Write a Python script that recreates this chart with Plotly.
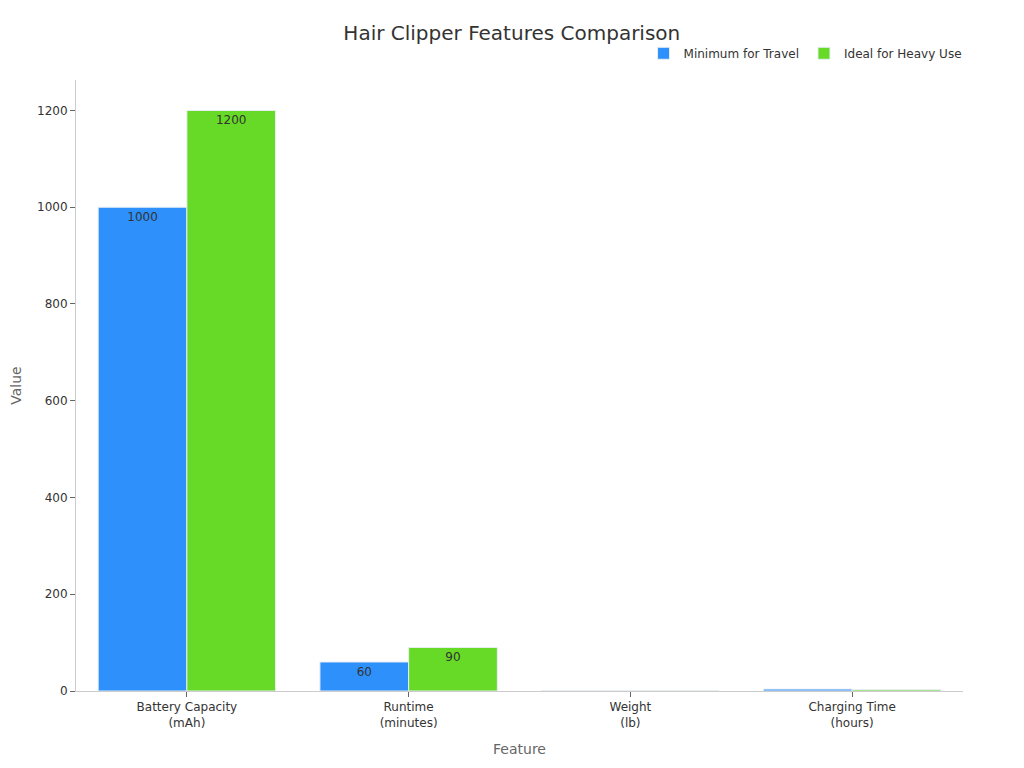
import plotly.graph_objects as go

# 数据
features = ['Battery Capacity<br>(mAh)', 'Runtime<br>(minutes)', 'Weight<br>(lb)', 'Charging Time<br>(hours)']
min_travel = [1000, 60, 1, 4]
ideal_heavy = [1200, 90, 0.5, 3]

BLUE = '#2E90FA'
GREEN = '#66DA26'
FONT = 'DejaVu Sans'

fig = go.Figure()
fig.add_trace(go.Bar(
    x=features, y=min_travel, name='Minimum for Travel',
    marker=dict(color=BLUE, line=dict(color='#e8eef5', width=1)),
    text=min_travel, textposition='inside', insidetextanchor='end',
    textfont=dict(color='#333333', size=12), cliponaxis=False,
))
fig.add_trace(go.Bar(
    x=features, y=ideal_heavy, name='Ideal for Heavy Use',
    marker=dict(color=GREEN, line=dict(color='#e8eef5', width=1)),
    text=ideal_heavy, textposition='inside', insidetextanchor='end',
    textfont=dict(color='#333333', size=12), cliponaxis=False,
))

fig.update_layout(
    width=1024, height=768,
    title=dict(text='Hair Clipper Features Comparison', x=0.492, xanchor='center',
               y=0.967, yanchor='middle',
               font=dict(family=FONT, size=20, color='#333333')),
    font=dict(family=FONT, size=12, color='#333333'),
    barmode='group', bargap=0.2, bargroupgap=0,
    plot_bgcolor='white', paper_bgcolor='white',
    margin=dict(l=68, r=69, t=72, b=85),
    uniformtext=dict(minsize=10, mode='hide'),
    legend=dict(orientation='h', x=1.004, xanchor='right', y=1.02, yanchor='bottom',
                font=dict(size=12), itemwidth=30),
    xaxis=dict(title=dict(text='Feature', font=dict(size=14, color='#666666')),
               showline=True, linecolor='#cccccc', ticks='outside', tickcolor='#666666',
               ticklen=5, showgrid=False),
    yaxis=dict(title=dict(text='Value', font=dict(size=14, color='#666666')),
               showline=True, linecolor='#cccccc', ticks='outside', tickcolor='#666666',
               ticklen=5, showgrid=False, zeroline=False, range=[0, 1263],
               automargin=False),
)

fig.write_html('out.html')
